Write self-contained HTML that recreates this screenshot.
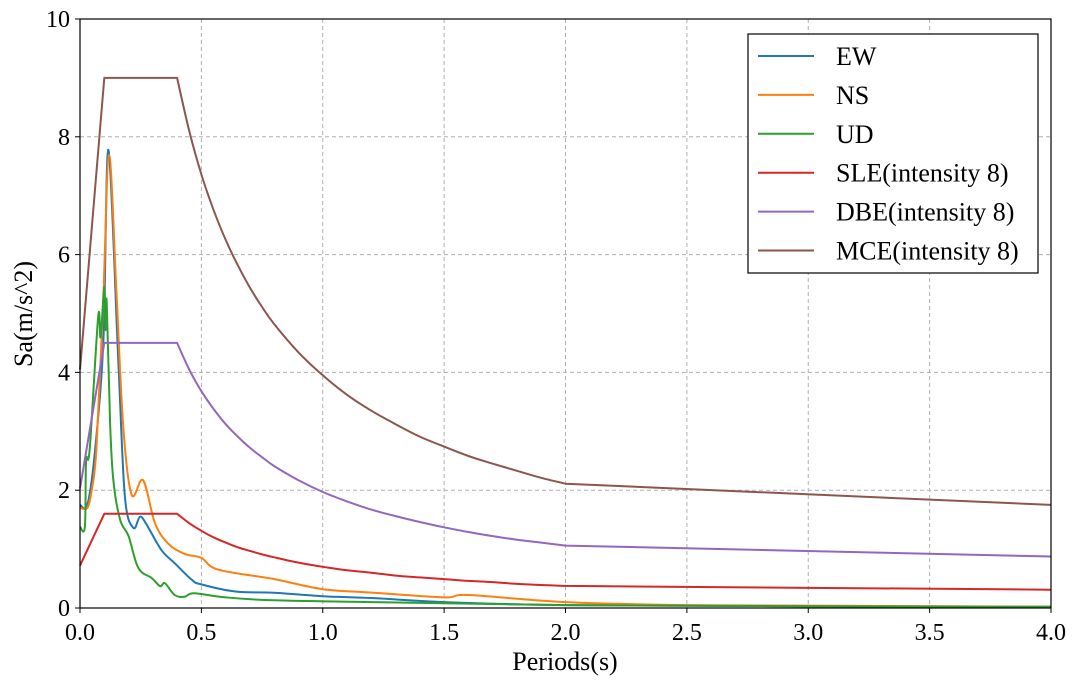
<!DOCTYPE html>
<html><head><meta charset="utf-8">
<style>
html,body{margin:0;padding:0;background:#fff;}
svg{display:block;font-family:"Liberation Serif",serif;}
</style></head>
<body>
<svg id="chart" width="1080" height="686" viewBox="0 0 1080 686">
<g id="grid"></g>
<g id="series"></g>
<rect x="80" y="19" width="971" height="589" fill="none" stroke="#000" stroke-width="1.2"/>
<g id="ticks"></g>
<text x="565" y="670" font-size="26" text-anchor="middle">Periods(s)</text>
<text x="32" y="314" font-size="26" text-anchor="middle" transform="rotate(-90 32 314)">Sa(m/s^2)</text>
<g id="legend"></g>
</svg>
<script>
const xTicks=[0,0.5,1.0,1.5,2.0,2.5,3.0,3.5,4.0];
const xTickLabels=["0.0","0.5","1.0","1.5","2.0","2.5","3.0","3.5","4.0"];
const yTicks=[0,2,4,6,8,10];
const yTickLabels=["0","2","4","6","8","10"];
const seriesNames=["EW","NS","UD","SLE(intensity 8)","DBE(intensity 8)","MCE(intensity 8)"];
const colors=["#1f77b4","#ff7f0e","#2ca02c","#d62728","#9467bd","#8c564b"];
const ewT=[0,0.03,0.06,0.096,0.117,0.158,0.185,0.22,0.247,0.274,0.336,0.39,0.46,0.5,0.64,0.8,1.0,1.2,1.5,2.0,3.0,4.0];
const ewV=[1.75,1.75,2.6,4.5,7.78,4.16,1.89,1.36,1.55,1.42,0.98,0.76,0.48,0.40,0.28,0.26,0.2,0.17,0.1,0.05,0.03,0.02];
const nsT=[0,0.03,0.048,0.068,0.096,0.12,0.151,0.179,0.213,0.26,0.309,0.364,0.43,0.5,0.57,0.8,1.0,1.21,1.5,1.6,2.0,2.5,3.0,4.0];
const nsV=[1.7,1.7,2.0,2.73,5.28,7.69,5.28,3.02,1.92,2.17,1.44,1.09,0.92,0.85,0.65,0.49,0.32,0.26,0.18,0.22,0.1,0.05,0.04,0.02];
const udT=[0,0.02,0.025,0.04,0.075,0.085,0.1,0.105,0.11,0.124,0.137,0.165,0.2,0.24,0.295,0.33,0.35,0.39,0.43,0.47,0.6,0.8,1.2,2.0,3.0,4.0];
const udV=[1.38,1.38,2.5,2.7,4.95,4.6,5.45,4.72,5.2,3.14,2.18,1.5,1.22,0.68,0.51,0.37,0.42,0.22,0.19,0.25,0.18,0.13,0.1,0.05,0.03,0.02];
const desT=[0,0.1,0.4,0.45,0.5,0.55,0.6,0.65,0.7,0.75,0.8,0.9,1.0,1.1,1.2,1.3,1.4,1.5,1.6,1.7,1.8,1.9,2.0,4.0];
const sleV=[0.72,1.6,1.6,1.44,1.31,1.20,1.11,1.03,0.97,0.91,0.86,0.77,0.70,0.64,0.60,0.55,0.52,0.49,0.46,0.44,0.41,0.39,0.376,0.31];
const dbeV=[2.03,4.5,4.5,4.05,3.68,3.38,3.12,2.91,2.72,2.56,2.41,2.17,1.97,1.81,1.67,1.56,1.46,1.37,1.29,1.22,1.16,1.11,1.06,0.875];
const mceV=[4.05,9,9,8.10,7.36,6.76,6.25,5.82,5.44,5.11,4.82,4.34,3.95,3.62,3.35,3.12,2.91,2.74,2.58,2.45,2.33,2.21,2.11,1.75];

const NS="http://www.w3.org/2000/svg";
const X0=80,X1=1051,Y0=608,Y1=19;
function xs(v){return X0+(v-0)/(4-0)*(X1-X0);}
function ys(v){return Y0-(v-0)/(10-0)*(Y0-Y1);}
function mk(tag,attrs,parent){const e=document.createElementNS(NS,tag);for(const k in attrs)e.setAttribute(k,attrs[k]);parent.appendChild(e);return e;}
function f(n){return n.toFixed(1);}
function smooth(pts){ // catmull-rom through pts, returns segment commands (no M)
  let d='';
  for(let i=0;i<pts.length-1;i++){
    const p0=pts[Math.max(0,i-1)],p1=pts[i],p2=pts[i+1],p3=pts[Math.min(pts.length-1,i+2)];
    const c1=[p1[0]+(p2[0]-p0[0])/6,p1[1]+(p2[1]-p0[1])/6];
    const c2=[p2[0]-(p3[0]-p1[0])/6,p2[1]-(p3[1]-p1[1])/6];
    d+=' C'+f(c1[0])+','+f(c1[1])+' '+f(c2[0])+','+f(c2[1])+' '+f(p2[0])+','+f(p2[1]);
  }
  return d;
}
const grid=document.getElementById('grid'),ticks=document.getElementById('ticks'),ser=document.getElementById('series'),leg=document.getElementById('legend');
xTicks.forEach((t,i)=>{
  const x=xs(t);
  if(i>0&&i<xTicks.length-1){const g=mk('line',{x1:x,x2:x,y1:Y1,y2:Y0,stroke:'#b0b0b0','stroke-width':1,'stroke-dasharray':'4,3'},grid);
  
  }
  const tk=mk('line',{x1:x,x2:x,y1:Y0,y2:Y0+5,stroke:'#000','stroke-width':1},ticks);
  
  
  const tx=mk('text',{x:x,y:Y0+32,'font-size':24,'text-anchor':'middle'},ticks);tx.textContent=xTickLabels[i];
  
  
});
yTicks.forEach((t,i)=>{
  const y=ys(t);
  if(i>0&&i<yTicks.length-1){const g=mk('line',{x1:X0,x2:X1,y1:y,y2:y,stroke:'#b0b0b0','stroke-width':1,'stroke-dasharray':'4,3'},grid);
  
  }
  const tk=mk('line',{x1:X0-5,x2:X0,y1:y,y2:y,stroke:'#000','stroke-width':1},ticks);
  
  
  const tx=mk('text',{x:X0-10,y:y+8,'font-size':24,'text-anchor':'end'},ticks);tx.textContent=yTickLabels[i];
  
  
});
const allT=[ewT,nsT,udT,desT,desT,desT],allV=[ewV,nsV,udV,sleV,dbeV,mceV],ids=['ew-line','ns-line','ud-line','sle-line','dbe-line','mce-line'];
allT.forEach((T,s)=>{
  const pts=T.map((t,i)=>[xs(t),ys(allV[s][i])]);
  let d;
  if(s>=3){
    const mid=pts.slice(2,pts.length-1);
    d='M'+f(pts[0][0])+','+f(pts[0][1])+' L'+f(pts[1][0])+','+f(pts[1][1])+' L'+f(pts[2][0])+','+f(pts[2][1])+smooth(mid)+' L'+f(pts[pts.length-1][0])+','+f(pts[pts.length-1][1]);
  } else {
    d='M'+f(pts[0][0])+','+f(pts[0][1])+smooth(pts);
  }
  const p=mk('path',{d:d,fill:'none',stroke:colors[s],'stroke-width':2,'stroke-linejoin':'round'},ser);
  
  
});
const lb=mk('rect',{x:748,y:34,width:290,height:239,fill:'#fff',stroke:'#000','stroke-width':1.2},leg);


seriesNames.forEach((n,i)=>{
  const y=56+i*38.9;
  const g=mk('g',{},leg);
  
  
  mk('line',{x1:758,x2:814,y1:y,y2:y,stroke:colors[i],'stroke-width':2},g);
  const t=mk('text',{x:836,y:y+9,'font-size':26},g);t.textContent=n;
});
</script>
</body></html>
